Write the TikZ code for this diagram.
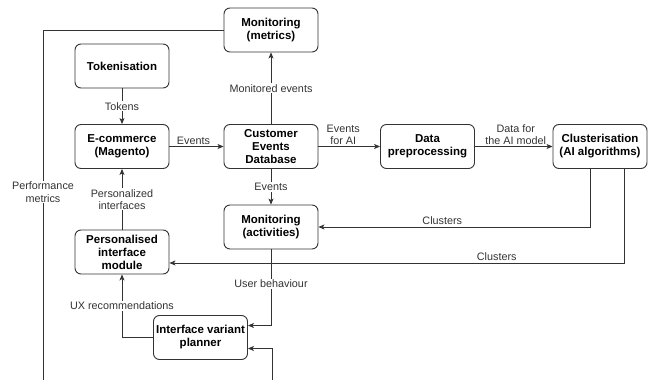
\documentclass[tikz,border=0pt]{standalone}
\usepackage{fontspec}
\setmainfont{Liberation Sans}
\usetikzlibrary{arrows.meta}
\definecolor{linec}{HTML}{333333}
\definecolor{labc}{HTML}{333333}
\begin{document}
\begin{tikzpicture}[x=1pt,y=-1pt,
  box/.style={draw=linec, line width=0.9pt, rounded corners=6pt, fill=white,
    minimum width=94pt, minimum height=44pt, align=center, inner sep=2pt,
    font=\fontsize{11.5}{13}\selectfont\bfseries},
  conn/.style={draw=linec, line width=0.8pt,
    -{Stealth[length=6pt,width=5pt,inset=1.5pt]}},
  lab/.style={font=\fontsize{10.8}{12.2}\selectfont, text=labc, fill=white,
    inner sep=1pt, align=center},
  tlab/.style={lab, fill=none, anchor=south, inner sep=1.5pt}]
\useasboundingbox (0,0) rectangle (653,380);
\clip (0,0) rectangle (653,380);

% process boxes
\node[box] (met)  at (271,30)    {Monitoring\\(metrics)};
\node[box] (tok)  at (122,66)    {Tokenisation};
\node[box] (ecom) at (122,146.5) {E-commerce\\(Magento)};
\node[box] (ced)  at (271,146.5) {Customer\\Events\\Database};
\node[box] (dp)   at (427.5,146.5) {Data\\preprocessing};
\node[box] (clu)  at (600,146.5) {Clusterisation\\(AI algorithms)};
\node[box] (mact) at (271,227)   {Monitoring\\(activities)};
\node[box] (pim)  at (122,252)   {Personalised\\interface\\module};
\node[box] (ivp)  at (200.5,337.5) {Interface variant\\planner};

% data flows
\draw[conn] (tok) -- node[lab] {Tokens} (ecom);
\draw[conn] (ecom) -- node[tlab, xshift=-3pt] {Events} (ced);
\draw[conn] (ced) -- node[lab] {Monitored events} (met);
\draw[conn] (ced) -- node[tlab, xshift=-6pt] {Events\\for AI} (dp);
\draw[conn] (dp) -- node[tlab, xshift=2pt] {Data for\\the AI model} (clu);
\draw[conn] (ced) -- node[lab] {Events} (mact);
\draw[conn] ([xshift=-10pt]clu.south) |- node[tlab, pos=0.772] {Clusters} (mact.east);
\draw[conn] ([xshift=24pt]clu.south) |- node[tlab, pos=0.64] {Clusters} ([yshift=-11pt]pim.east);
\draw[conn] (mact.south) |- node[lab, pos=0.227] {User behaviour} ([yshift=12pt]ivp.east);
\draw[conn] (pim) -- node[lab] {Personalized\\interfaces} (ecom);
\draw[conn] (ivp.west) -| node[lab, pos=0.75] {UX recommendations} (pim.south);
\coordinate (pl) at (43,400);
\coordinate (pr) at (272,400);
\draw[conn] (met.west) -- (43,30) -- node[lab, pos=0.438] {Performance\\metrics} (pl)
  -- (pr) |- ([yshift=-11pt]ivp.east);
\end{tikzpicture}
\end{document}
